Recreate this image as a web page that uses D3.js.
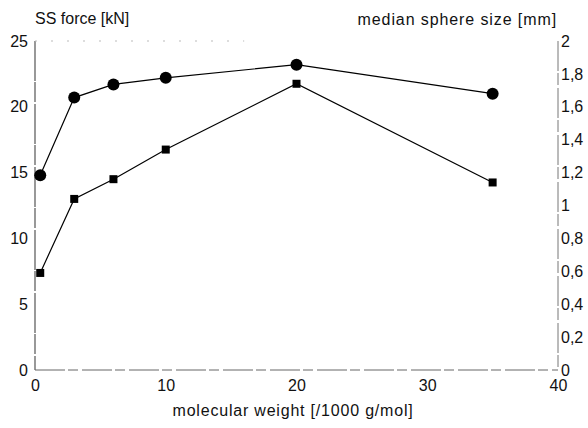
<!DOCTYPE html>
<html>
<head>
<meta charset="utf-8">
<script src="https://cdn.jsdelivr.net/npm/d3@7"></script>
<style>
  body { margin: 0; background: #fff; }
  text { font-family: "Liberation Sans", Arial, sans-serif; fill: #111; }
</style>
</head>
<body>
<div id="chart"></div>
<script>
// molecular weight [/1000 g/mol]
let weights = [0.4, 3, 6, 10, 20, 35];
// SS force [kN] (circles, left axis)
let forceValues = [14.8, 20.7, 21.7, 22.2, 23.2, 21.0];
// median sphere size [mm] (squares, right axis)
let sizeValues = [0.59, 1.04, 1.16, 1.34, 1.74, 1.14];

let xTicks = [0, 10, 20, 30, 40];
let leftTicks = [0, 5, 10, 15, 20, 25];
let rightTicks = [0, 0.2, 0.4, 0.6, 0.8, 1, 1.2, 1.4, 1.6, 1.8, 2];

let width = 588, height = 428;
let margin = { left: 35, right: 30, top: 41, bottom: 58 };

let svg = d3.select("#chart")
  .append("svg")
  .attr("width", width)
  .attr("height", height);

let x = d3.scaleLinear().domain([0, 40]).range([margin.left, width - margin.right]);
let yLeft = d3.scaleLinear().domain([0, 25]).range([height - margin.bottom, margin.top]);
let yRight = d3.scaleLinear().domain([0, 2]).range([height - margin.bottom, margin.top]);

// frame lines
svg.append("line")
  .attr("x1", x(0)).attr("x2", x(0))
  .attr("y1", yLeft(25)).attr("y2", yLeft(0))
  .attr("stroke", "#555").attr("stroke-width", 1.2)
  .attr("stroke-dasharray", "40,1,20,2");
svg.append("line")
  .attr("x1", x(40)).attr("x2", x(40))
  .attr("y1", yLeft(25)).attr("y2", yLeft(0))
  .attr("stroke", "#777").attr("stroke-width", 1)
  .attr("stroke-dasharray", "30,2,12,3");
svg.append("line")
  .attr("x1", x(0)).attr("x2", x(40))
  .attr("y1", yLeft(0)).attr("y2", yLeft(0))
  .attr("stroke", "#666").attr("stroke-width", 1)
  .attr("stroke-dasharray", "30,3,10,4");
svg.append("line")
  .attr("x1", x(0)).attr("x2", x(16))
  .attr("y1", yLeft(25)).attr("y2", yLeft(25))
  .attr("stroke", "#bbb").attr("stroke-width", 1)
  .attr("stroke-dasharray", "2,14");

// axes (labels only, no tick marks)
let xAxis = svg.append("g")
  .attr("transform", "translate(0," + yLeft(0) + ")")
  .call(d3.axisBottom(x).tickValues(xTicks).tickSize(0).tickPadding(10));
let leftAxis = svg.append("g")
  .attr("transform", "translate(" + x(0) + ",0)")
  .call(d3.axisLeft(yLeft).tickValues(leftTicks).tickSize(0).tickPadding(7));
let rightAxis = svg.append("g")
  .attr("transform", "translate(" + x(40) + ",0)")
  .call(d3.axisRight(yRight).tickValues(rightTicks).tickSize(0).tickPadding(3)
    .tickFormat(function(d) { return String(d).replace(".", ","); }));

[xAxis, leftAxis, rightAxis].forEach(function(g) {
  g.select(".domain").remove();
  g.selectAll("text").style("font-size", "16px").style("font-family", "'Liberation Sans', Arial, sans-serif");
});

// titles
svg.append("text").attr("x", 35).attr("y", 24).style("font-size", "16px").text("SS force [kN]");
svg.append("text").attr("x", 557).attr("y", 25).attr("text-anchor", "end")
  .style("font-size", "16px").style("letter-spacing", "0.9px").text("median sphere size [mm]");
svg.append("text").attr("x", 293).attr("y", 416).attr("text-anchor", "middle")
  .style("font-size", "16px").style("letter-spacing", "0.8px").text("molecular weight [/1000 g/mol]");

// circle series
let forceData = weights.map(function(w, i) { return [w, forceValues[i]]; });
svg.append("path")
  .datum(forceData)
  .attr("fill", "none").attr("stroke", "#000").attr("stroke-width", 1.2)
  .attr("d", d3.line().x(function(d) { return x(d[0]); }).y(function(d) { return yLeft(d[1]); }));
svg.selectAll("circle.force")
  .data(forceData)
  .enter().append("circle")
  .attr("class", "force")
  .attr("cx", function(d) { return x(d[0]); })
  .attr("cy", function(d) { return yLeft(d[1]); })
  .attr("r", 6)
  .attr("fill", "#000");

// square series
let sizeData = weights.map(function(w, i) { return [w, sizeValues[i]]; });
svg.append("path")
  .datum(sizeData)
  .attr("fill", "none").attr("stroke", "#000").attr("stroke-width", 1.2)
  .attr("d", d3.line().x(function(d) { return x(d[0]); }).y(function(d) { return yRight(d[1]); }));
svg.selectAll("rect.size")
  .data(sizeData)
  .enter().append("rect")
  .attr("class", "size")
  .attr("x", function(d) { return x(d[0]) - 4; })
  .attr("y", function(d) { return yRight(d[1]) - 4; })
  .attr("width", 8).attr("height", 8)
  .attr("fill", "#000");
</script>
</body>
</html>
